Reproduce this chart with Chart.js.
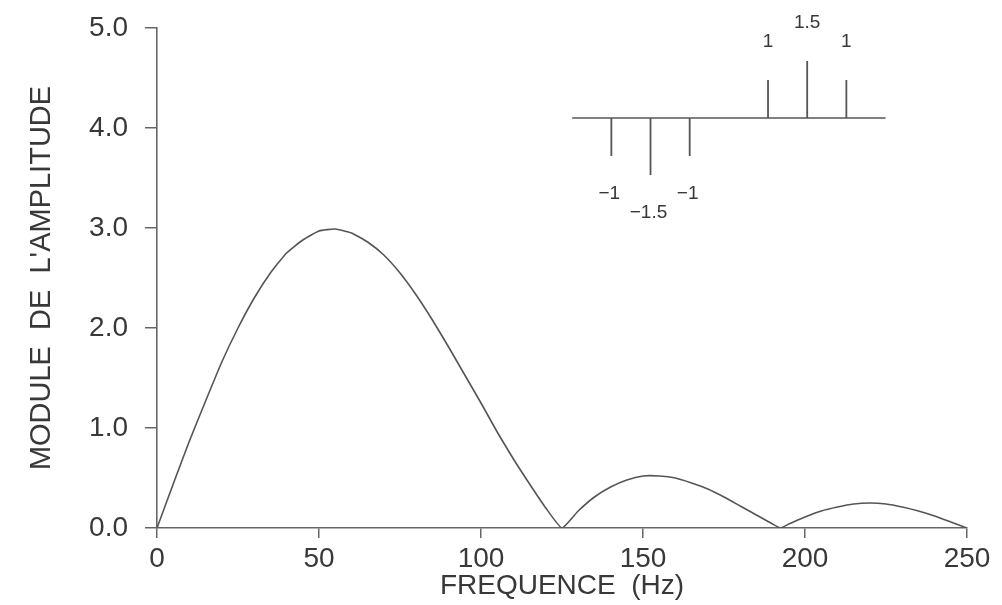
<!DOCTYPE html>
<html>
<head>
<meta charset="utf-8">
<script src="https://cdn.jsdelivr.net/npm/chart.js@4/dist/chart.umd.min.js"></script>
<style>
    html, body { margin: 0; padding: 0; background: #fff; }
    #wrap { width: 1002px; height: 605px; }
</style>
</head>
<body>
<div id="wrap"><canvas id="myChart"></canvas></div>
<script>
// Spectre d'amplitude
const freqs = [0, 5, 10, 15, 20, 25, 30, 35, 40, 45, 50, 55, 60, 65, 70, 75, 80, 85, 90, 95,
    100, 105, 110, 115, 120, 125, 130, 135, 140, 145, 150, 155, 160, 165, 170, 175, 180, 185, 190, 192.5,
    195, 200, 205, 210, 215, 220, 225, 230, 235, 240, 245, 250];
const amps = [0, 0.44, 0.87, 1.27, 1.66, 2.00, 2.30, 2.55, 2.75, 2.88, 2.97, 2.99, 2.95, 2.86, 2.73, 2.55, 2.33, 2.08, 1.81, 1.53,
    1.25, 0.96, 0.69, 0.44, 0.20, 0, 0.17, 0.31, 0.41, 0.48, 0.52, 0.52, 0.50, 0.45, 0.39, 0.31, 0.22, 0.13, 0.04, 0,
    0.04, 0.11, 0.17, 0.21, 0.24, 0.25, 0.24, 0.21, 0.17, 0.12, 0.06, 0];

// Signal en encart : position des impulsions et amplitude
const stemPos = [1, 2, 3, 5, 6, 7];
const stemVal = [-1, -1.5, -1, 1, 1.5, 1];
const insetSpan = [0, 8];

const yTicks = [0, 1, 2, 3, 4, 5];
const xTicks = [0, 50, 100, 150, 200, 250];

const lineColor = '#555';
const axisColor = '#666';
const textColor = '#383838';
const fontFamily = "'Liberation Sans', 'DejaVu Sans', sans-serif";

const curveData = freqs.map((f, i) => ({ x: f, y: amps[i] }));

const stemData = [];
stemPos.forEach((p, i) => {
    stemData.push({ x: p, y: 0 }, { x: p, y: stemVal[i] }, { x: p, y: null });
});

const baseData = insetSpan.map(v => ({ x: v, y: 0 }));

function fmt(v) {
    const s = Number.isInteger(v) ? String(Math.abs(v)) : Math.abs(v).toFixed(1);
    return (v < 0 ? '\u2212' : '') + s;
}

const insetLabels = {
    id: 'insetLabels',
    afterDatasetsDraw(chart) {
        const ctx = chart.ctx;
        const sx = chart.scales.x2;
        const sy = chart.scales.y2;
        ctx.save();
        ctx.fillStyle = textColor;
        ctx.font = '19px ' + fontFamily;
        ctx.textAlign = 'center';
        ctx.textBaseline = 'middle';
        stemPos.forEach((p, i) => {
            const v = stemVal[i];
            const off = v < 0 ? -1 : 1;
            ctx.fillText(fmt(v), sx.getPixelForValue(p) - (v < 0 ? 2 : 0), sy.getPixelForValue(v + off));
        });
        ctx.restore();
    }
};

const ctx = document.getElementById('myChart').getContext('2d');
new Chart(ctx, {
    type: 'line',
    data: {
        datasets: [{
            data: curveData,
            borderColor: lineColor,
            borderWidth: 1.6,
            pointRadius: 0,
            tension: 0.15,
            xAxisID: 'x',
            yAxisID: 'y'
        }, {
            data: baseData,
            borderColor: lineColor,
            borderWidth: 1.6,
            pointRadius: 0,
            xAxisID: 'x2',
            yAxisID: 'y2'
        }, {
            data: stemData,
            borderColor: lineColor,
            borderWidth: 1.8,
            pointRadius: 0,
            spanGaps: false,
            xAxisID: 'x2',
            yAxisID: 'y2'
        }]
    },
    options: {
        responsive: true,
        maintainAspectRatio: false,
        animation: false,
        layout: {
            padding: { top: 28, right: 35, left: 0, bottom: 0 }
        },
        plugins: {
            legend: { display: false },
            tooltip: { enabled: false }
        },
        scales: {
            x: {
                type: 'linear',
                min: 0,
                max: 250,
                afterBuildTicks: s => { s.ticks = xTicks.map(v => ({ value: v })); },
                afterFit: s => { s.height = 77; s.paddingLeft = 0; s.paddingRight = 0; },
                ticks: {
                    color: textColor,
                    font: { family: fontFamily, size: 28 },
                    padding: 4,
                    maxRotation: 0
                },
                grid: {
                    drawOnChartArea: false,
                    tickLength: 10,
                    tickColor: axisColor,
                    lineWidth: 1.5
                },
                border: { display: true, color: axisColor, width: 1.6 },
                title: {
                    display: true,
                    text: 'FREQUENCE  (Hz)',
                    color: textColor,
                    font: { family: fontFamily, size: 28 },
                    padding: { top: 0, bottom: 2 }
                }
            },
            y: {
                type: 'linear',
                min: 0,
                max: 5,
                afterBuildTicks: s => { s.ticks = yTicks.map(v => ({ value: v })); },
                afterFit: s => { s.width = 157; s.paddingTop = 0; s.paddingBottom = 0; },
                ticks: {
                    color: textColor,
                    font: { family: fontFamily, size: 28 },
                    padding: 17,
                    callback: v => v.toFixed(1)
                },
                grid: {
                    drawOnChartArea: false,
                    tickLength: 12,
                    tickColor: axisColor,
                    lineWidth: 1.5
                },
                border: { display: true, color: axisColor, width: 1.6 },
                title: {
                    display: true,
                    text: "MODULE  DE  L'AMPLITUDE",
                    color: textColor,
                    font: { family: fontFamily, size: 29 },
                    padding: { top: 25, bottom: 0 }
                }
            },
            x2: {
                type: 'linear',
                display: false,
                min: -10.6,
                max: 10.08
            },
            y2: {
                type: 'linear',
                display: false,
                min: -10.79,
                max: 2.37
            }
        }
    },
    plugins: [insetLabels]
});
</script>
</body>
</html>
